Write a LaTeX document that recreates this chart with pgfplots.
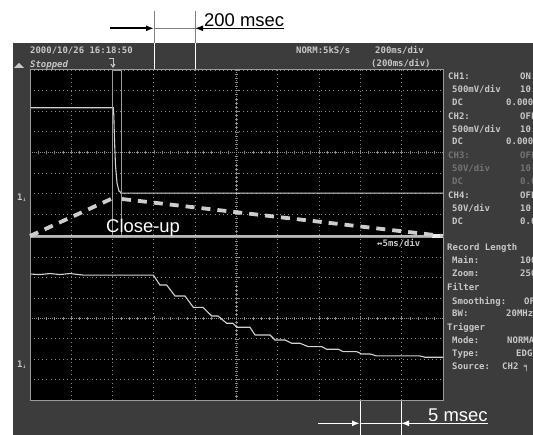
\documentclass[border=0pt]{standalone}
\usepackage{pgfplots}
\pgfplotsset{compat=1.18}
\usepackage{fontspec}
\setmainfont{Liberation Sans}
\newfontfamily\scopefont{DejaVu Sans Mono}
\usetikzlibrary{arrows.meta}

\definecolor{panel}{HTML}{3C3C3C}
\definecolor{txt}{HTML}{C8C8C8}
\definecolor{dim}{HTML}{747474}
\definecolor{gridc}{HTML}{8C8C8C}
\definecolor{wavec}{HTML}{D2D2D2}
\definecolor{framec}{HTML}{9A9A9A}
\definecolor{funnelc}{HTML}{CDCDCD}

\tikzset{
  st/.style={anchor=base west, inner sep=0pt, font=\scopefont\bfseries\fontsize{9}{9}\selectfont, text=txt},
  big/.style={anchor=base west, inner sep=0pt, font=\fontsize{18.5}{18.5}\selectfont},
  tip/.style={-{Latex[length=8bp,width=6bp]}},
}

\pgfplotsset{
  % whole picture in pixel units, y downwards
  pix/.style={at={(0,0)}, anchor=south west, width=533bp, height=435bp,
    scale only axis, xmin=0, xmax=533, ymin=0, ymax=435, y dir=reverse, hide axis},
  % one scope screen, in divisions
  screen/.style={width=413bp, scale only axis, anchor=south west,
    xmin=-5, xmax=5, ymin=-4, ymax=4,
    axis lines=middle, axis line style={-, gridc, line width=0.8bp, dash pattern=on 1bp off 1bp},
    xtick={-5,...,5}, ytick={-4,...,4}, minor tick num=4,
    xticklabels={}, yticklabels={},
    tick style={gridc, line width=0.7bp}, major tick length=4bp, minor tick length=3bp,
    tick align=center,
    grid=major, major grid style={gridc, line width=0.9bp, dash pattern=on 0.9bp off 3.2bp}},
  trace/.style={wavec, line width=1.1bp, mark=none},
}

% y baseline, x label, label, x value, value
\newcommand{\row}[6][txt]{%
  \node[st, text=#1] at (axis cs:#3,#2) {#4};
  \node[st, text=#1] at (axis cs:#5,#2) {#6};}

\begin{document}
\begin{tikzpicture}

\begin{axis}[pix]
  \fill[white] (axis cs:0,0) rectangle (axis cs:533,435);
  \fill[panel] (axis cs:13,43) rectangle (axis cs:533,435);
  \fill[black] (axis cs:30,70) rectangle (axis cs:443,235);
  \fill[black] (axis cs:30,237) rectangle (axis cs:443,400);

  % header
  \node[st] at (axis cs:30,53.2) {2000/10/26 16:18:50};
  \node[st, font=\scopefont\bfseries\itshape\fontsize{9}{9}\selectfont] at (axis cs:30,67.2) {Stopped};
  \node[st] at (axis cs:296,53.2) {NORM:5kS/s};
  \node[st] at (axis cs:375,53.2) {200ms/div};
  \node[st] at (axis cs:371,66.5) {(200ms/div)};
  \fill[txt] (axis cs:14,68) -- (axis cs:24,68) -- (axis cs:19,63) -- cycle;
  \draw[txt, line width=1bp] (axis cs:109,58.5) -- (axis cs:113,58.5) -- (axis cs:113,67);
  \draw[txt, line width=1bp] (axis cs:111,64) -- (axis cs:113,67) -- (axis cs:115,64);

  % side panel
  \row{79.2}{448}{CH1:}{520}{ON}
  \row{92.5}{452}{500mV/div}{520}{10:1}
  \row{105.9}{452}{DC}{506}{0.000V}
  \row{119.2}{448}{CH2:}{520}{OFF}
  \row{132.2}{452}{500mV/div}{520}{10:1}
  \row{144.9}{452}{DC}{506}{0.000V}
  \row[dim]{158.2}{448}{CH3:}{520}{OFF}
  \row[dim]{171.7}{452}{50V/div}{520}{10:1}
  \row[dim]{184.9}{452}{DC}{520}{0.00V}
  \row{198.2}{448}{CH4:}{520}{OFF}
  \row{211.2}{452}{50V/div}{520}{10:1}
  \row{224.9}{452}{DC}{520}{0.00V}
  \node[st] at (axis cs:447,250.2) {Record Length};
  \row{263.9}{452}{Main:}{520}{100k}
  \row{276.5}{452}{Zoom:}{520}{250}
  \node[st] at (axis cs:447,290.5) {Filter};
  \row{304.2}{452}{Smoothing:}{524}{OFF}
  \row{316.5}{452}{BW:}{506}{20MHz}
  \node[st] at (axis cs:447,330.5) {Trigger};
  \row{343.9}{452}{Mode:}{507}{NORMAL}
  \row{356.5}{452}{Type:}{516}{EDGE}
  \row{369.9}{452}{Source:}{502}{CH2 ╕}

  % ground markers
  \node[st] at (axis cs:17,200.5) {1\raisebox{-1bp}{\fontsize{6}{6}\selectfont ↓}};
  \node[st] at (axis cs:17,367.5) {1\raisebox{-1bp}{\fontsize{6}{6}\selectfont ↓}};

  % 200 msec marker
  \draw[gray, line width=1bp] (axis cs:154,11) -- (axis cs:154,43);
  \draw[gray, line width=1bp] (axis cs:195,11) -- (axis cs:195,43);
  \draw[white, line width=1bp] (axis cs:154,43) -- (axis cs:154,70);
  \draw[white, line width=1bp] (axis cs:195,43) -- (axis cs:195,70);
  \draw[gray, line width=1.2bp] (axis cs:154,28.3) -- (axis cs:195,28.3);
  \draw[black, line width=1.6bp, tip] (axis cs:110,28.3) -- (axis cs:154,28.3);
  \draw[black, line width=1.2bp, tip] (axis cs:284,28.3) -- (axis cs:195,28.3);
  \node[big] at (axis cs:204,26.3) {200 msec};

  % 5 msec marker
  \draw[white, line width=1bp] (axis cs:360,400) -- (axis cs:360,435);
  \draw[white, line width=1bp] (axis cs:401,400) -- (axis cs:401,435);
  \draw[white, line width=1.2bp] (axis cs:360,423.3) -- (axis cs:401,423.3);
  \draw[white, line width=1.6bp, tip] (axis cs:318,423.3) -- (axis cs:360,423.3);
  \draw[white, line width=1.2bp, tip] (axis cs:488,423.3) -- (axis cs:401,423.3);
  \node[big, text=white] at (axis cs:428,421.5) {5 msec};
\end{axis}

% main record, 200 ms/div
\begin{axis}[screen, at={(30bp,200bp)}, height=165bp]
  \addplot[trace] coordinates {
    (-5,2.17) (-2.983,2.17) (-2.971,1.816) (-2.954,0.602) (-2.930,-0.612)
    (-2.893,-1.485) (-2.845,-1.874) (-2.772,-1.971) (5,-1.971)};
\end{axis}

% zoom record, 5 ms/div
\begin{axis}[screen, at={(30bp,35bp)}, height=163bp]
  \addplot[trace] coordinates {
    (-5,2.181) (-4.758,2.157) (-4.516,2.206) (-4.274,2.157) (-4.031,2.206)
    (-3.717,2.132) (-2.015,2.132) (-1.852,1.642) (-1.690,1.642) (-1.489,1.103)
    (-1.247,1.103) (-1.046,0.549) (-0.811,0.549) (-0.600,0.123) (-0.448,0.123)
    (-0.237,-0.235) (-0.085,-0.235) (0.005,-0.431) (0.327,-0.431) (0.448,-0.809)
    (0.811,-0.809) (0.932,-1.054) (1.174,-1.054) (1.337,-1.216) (1.538,-1.216)
    (1.738,-1.382) (2.063,-1.382) (2.184,-1.510) (2.465,-1.510) (2.586,-1.627)
    (2.910,-1.627) (3.031,-1.740) (3.232,-1.740) (3.395,-1.838) (4.443,-1.838)
    (4.564,-1.902) (5,-1.902)};
\end{axis}

\begin{axis}[pix]
  \draw[framec, line width=1bp] (axis cs:30,70) rectangle (axis cs:443,235);
  \draw[framec, line width=1bp] (axis cs:30,237) rectangle (axis cs:443,400);
  \draw[framec, line width=0.9bp] (axis cs:112,70) rectangle (axis cs:121,235);
  \draw[framec!70!white, line width=2.5bp] (axis cs:30,235.8) -- (axis cs:443,235.8);
  \fill[white!85!gray] (axis cs:432,233.5) rectangle (axis cs:443,237.5);
  \draw[funnelc, line width=3.8bp, dash pattern=on 9bp off 7bp] (axis cs:30,236) -- (axis cs:111,199);
  \draw[funnelc, line width=3.8bp, dash pattern=on 9bp off 7bp] (axis cs:122,199) -- (axis cs:443,236);
  \node[big, text=white] at (axis cs:106,232.7) {Close-up};
  \node[st] at (axis cs:377,246.6) {↔5ms/div};
\end{axis}

\pgfresetboundingbox
\useasboundingbox (0,0) rectangle (533bp,435bp);
\end{tikzpicture}
\end{document}
